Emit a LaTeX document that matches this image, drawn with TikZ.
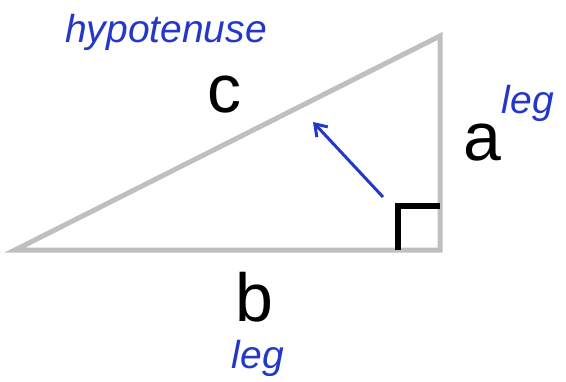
\documentclass[tikz,border=0pt]{standalone}
\usepackage{fontspec}
\setmainfont{Liberation Sans}
\usetikzlibrary{arrows.meta}
\definecolor{pen}{RGB}{35,55,200}
\tikzset{
  side/.style={line width=5pt, draw=gray!50, line cap=round},
  corner/.style={line width=5.5pt, draw=black},
  biglabel/.style={font=\fontsize{68}{80}\selectfont, text=black, inner sep=0pt},
  hand/.style={font=\fontsize{39}{46}\selectfont\itshape, text=pen, inner sep=0pt},
  pointer/.style={draw=pen, line width=3pt, -{Straight Barb[length=11pt,width=15pt]}}
}
\begin{document}
\begin{tikzpicture}[x=1pt,y=-1pt]
\useasboundingbox (0,0) rectangle (566,381);
\coordinate (A) at (15,250);
\coordinate (B) at (440,250);
\coordinate (C) at (440,36);
\coordinate (s1) at (398,250);
\coordinate (s2) at (398,206);
\coordinate (s3) at (440,206);
\draw[side] (A) -- (B) -- (C) -- cycle;
\draw[corner] (s1) -- (s2) -- (s3);
\node[biglabel] (c) at (224,95) {c};
\node[biglabel] (a) at (482,143) {a};
\node[biglabel] (b) at (254,297) {b};
\node[hand] (hyp) at (166,32) {hypotenuse};
\node[hand] (leg1) at (528,103) {leg};
\node[hand] (leg2) at (258,358) {leg};
\coordinate (p1) at (383,197);
\coordinate (p2) at (313,122);
\draw[pointer] (p1) -- (p2);
\end{tikzpicture}
\end{document}
